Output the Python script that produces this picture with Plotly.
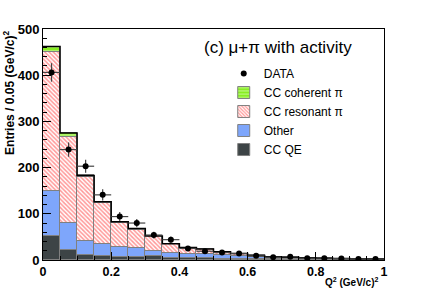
import plotly.graph_objects as go

bin_width = 0.05
bin_left = [i * 0.05 for i in range(20)]
cc_qe = [51, 22, 10, 8, 7, 6, 8, 5, 5, 4, 3, 3, 2, 2, 2, 1, 1, 1, 0.5, 0.5]
other = [99, 59, 31, 26, 21, 19, 12, 11, 9, 8, 7, 5, 4, 3, 2, 2, 2, 1, 1, 0.5]
cc_res = [301, 186, 138, 89, 53, 41, 31, 18, 12, 11, 7.5, 5.5, 3.7, 2, 2, 2, 1, 1, 0.5, 1]
cc_coh = [11, 8, 4, 3, 2, 2, 1, 1, 1, 1, 0.5, 0.5, 0.3, 0, 0, 0, 0, 0, 0, 0]

data_x = [0.025 + 0.05 * i for i in range(20)]
data_y = [406, 239, 203, 141, 94, 80, 54, 44, 25, 19, 16, 14, 9, 6, 7, 4, 4, 3, 2, 2]
data_err = [20, 15.5, 14, 12, 9.7, 9, 7.3, 6.6, 5, 4.4, 4, 3.7, 3, 2.4, 2.6, 2, 2, 1.7, 1.4, 1.4]

x_tickvals = [0, 0.2, 0.4, 0.6, 0.8, 1.0]
x_ticktext = ["0", "0.2", "0.4", "0.6", "0.8", "1"]
y_tickvals = [0, 100, 200, 300, 400, 500]
y_ticktext = ["0", "100", "200", "300", "400", "500"]

centers = [l + bin_width / 2 for l in bin_left]
total = [a + b + c + d for a, b, c, d in zip(cc_qe, other, cc_res, cc_coh)]

fig = go.Figure()
edge_line = dict(color="#808080", width=1)
fig.add_trace(go.Bar(x=centers, y=cc_qe, width=bin_width, name="CC QE", legendrank=5,
                     marker=dict(color="#3d4446", line=edge_line)))
fig.add_trace(go.Bar(x=centers, y=other, width=bin_width, name="Other", legendrank=4,
                     marker=dict(color="#7ea6fb", line=edge_line)))
fig.add_trace(go.Bar(x=centers, y=cc_res, width=bin_width, name="CC resonant π", legendrank=3,
                     marker=dict(color="white",
                                 pattern=dict(shape="\\", fgcolor="#ff3030", bgcolor="white",
                                              size=3, solidity=0.5),
                                 line=edge_line)))
fig.add_trace(go.Bar(x=centers, y=cc_coh, width=bin_width, name="CC coherent π", legendrank=2,
                     marker=dict(color="#88ee22",
                                 pattern=dict(shape="-", fgcolor="white", bgcolor="#88ee22",
                                              size=4, solidity=0.3),
                                 line=edge_line)))

# total outline
edges = bin_left + [bin_left[-1] + bin_width]
fig.add_trace(go.Scatter(x=edges, y=total + [total[-1]], mode="lines", line_shape="hv",
                         line=dict(color="black", width=1.5), showlegend=False, hoverinfo="skip"))

fig.add_trace(go.Scatter(x=data_x, y=data_y, mode="markers", name="DATA", legendrank=1,
                         marker=dict(color="black", size=6),
                         error_y=dict(type="data", array=data_err, color="#444444", thickness=1.2, width=0),
                         error_x=dict(type="constant", value=0.025, color="#444444", thickness=1.2, width=0)))

fig.update_layout(
    width=427, height=289,
    margin=dict(l=43, r=43, t=29, b=29, autoexpand=False),
    barmode="stack", bargap=0,
    plot_bgcolor="white", paper_bgcolor="white",
    font=dict(family="Liberation Sans, Arial, sans-serif", color="black"),
    showlegend=True,
    legend=dict(x=0.53, y=0.87, xanchor="left", yanchor="top", bgcolor="rgba(0,0,0,0)",
                font=dict(size=12), tracegroupgap=0, traceorder="normal", itemwidth=30),
)
fig.update_xaxes(range=[0, 1], showline=True, linecolor="black", linewidth=1, mirror=True,
                 ticks="inside", ticklen=8, tickcolor="black",
                 tickvals=x_tickvals, ticktext=x_ticktext, automargin=False,
                 showgrid=False, zeroline=False,
                 tickfont=dict(size=12.5, family="Liberation Sans, Arial", weight="bold"),
                 minor=dict(ticks="inside", ticklen=4, dtick=0.05, tickcolor="black"))
fig.update_yaxes(range=[0, 500], showline=True, linecolor="black", linewidth=1, mirror=True,
                 ticks="inside", ticklen=8, tickcolor="black",
                 tickvals=y_tickvals, ticktext=y_ticktext, automargin=False,
                 showgrid=False, zeroline=False,
                 tickfont=dict(size=13, family="Liberation Sans, Arial", weight="bold"),
                 minor=dict(ticks="inside", ticklen=4, dtick=20, tickcolor="black"))

fig.add_annotation(text="(c) μ+π with activity", xref="paper", yref="paper", x=0.465, y=0.97,
                   xanchor="left", yanchor="top", showarrow=False, font=dict(size=17))
fig.add_annotation(text="<b>Q<sup>2</sup> (GeV/c)<sup>2</sup></b>", xref="paper", yref="paper",
                   x=0.985, y=-0.1265, xanchor="right", yanchor="bottom", showarrow=False,
                   borderpad=0, font=dict(size=10))
fig.add_annotation(text="<b>Entries / 0.05 (GeV/c)<sup>2</sup></b>", xref="paper", yref="paper",
                   x=-0.10, y=1.0, xanchor="center", yanchor="top", textangle=-90, showarrow=False,
                   font=dict(size=12))

fig.write_html("out.html", config={"displayModeBar": False},
               post_script="document.body.style.margin='0px';")
